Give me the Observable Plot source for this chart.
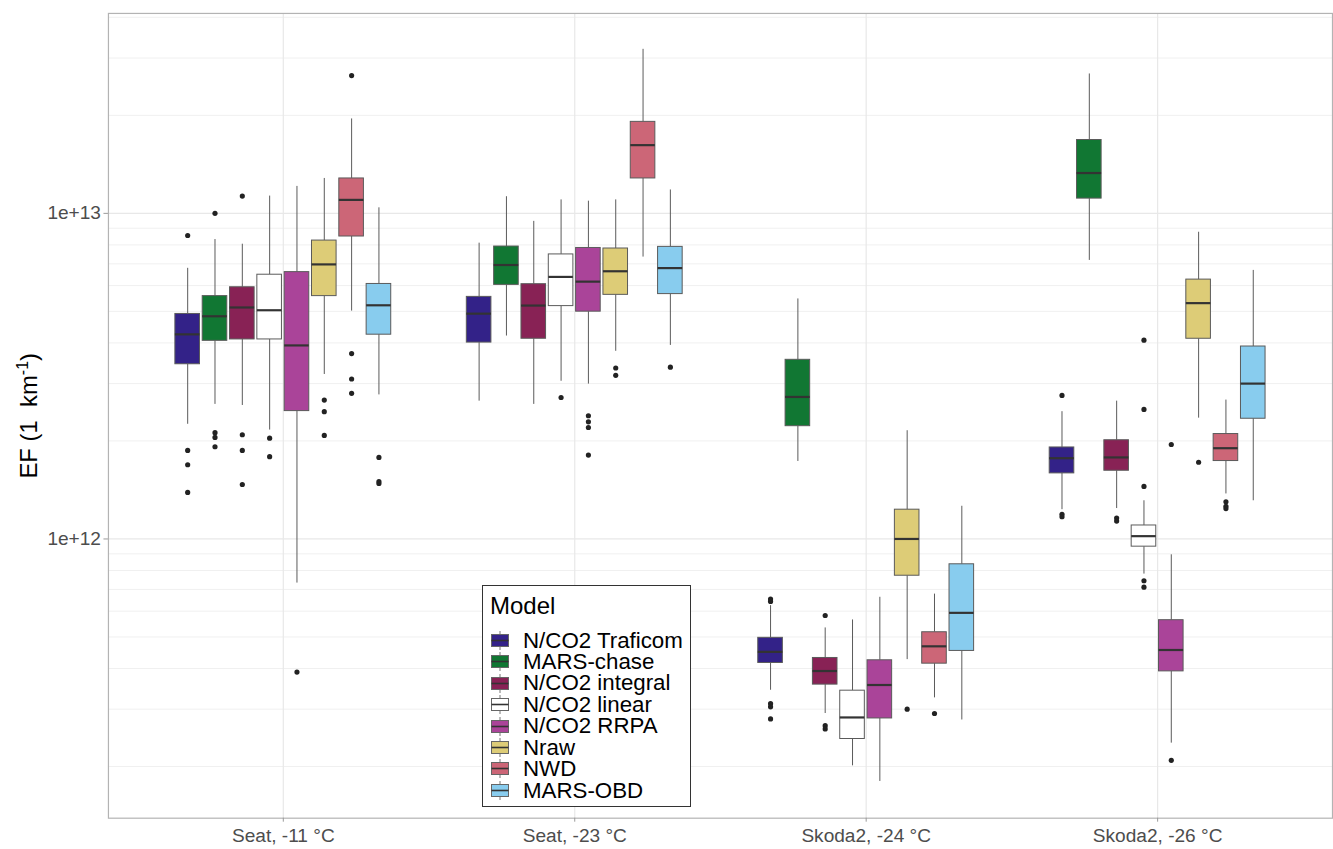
<!DOCTYPE html>
<html><head><meta charset="utf-8">
<script src="https://cdn.jsdelivr.net/npm/d3@7"></script>
<script src="https://cdn.jsdelivr.net/npm/@observablehq/plot@0.6"></script>
<style>
html,body{margin:0;padding:0;background:#fff;overflow:hidden;width:1333px;height:849px;}
#wrap{position:relative;width:1333px;height:849px;overflow:hidden;}
#wrap > svg{position:absolute;left:0;top:0;}
#legend{position:absolute;left:482px;top:585px;width:207px;height:220px;border:1px solid #333;background:#fff;
  font-family:"Liberation Sans",Arial,sans-serif;color:#000;box-sizing:content-box;}
#legend .title{position:absolute;left:7px;top:8px;font-size:24px;line-height:24px;height:24px;}
#legend .row{position:absolute;left:8px;height:21.43px;display:flex;align-items:center;white-space:nowrap;}
#legend .row svg{flex:none;display:block;}
#legend .row span{display:block;font-size:22.3px;line-height:21.43px;height:21.43px;margin-left:14px;}
</style></head>
<body><div id="wrap"></div>
<script>
// ---- data ----
const conditions = ["Seat, -11 °C", "Seat, -23 °C", "Skoda2, -24 °C", "Skoda2, -26 °C"];
const models = ["N/CO2 Traficom", "MARS-chase", "N/CO2 integral", "N/CO2 linear", "N/CO2 RRPA", "Nraw", "NWD", "MARS-OBD"];
const palette = ["#332288", "#117733", "#882255", "#FFFFFF", "#AA4499", "#DDCC77", "#CC6677", "#88CCEE"];

// per model: [lower whisker, Q1, median, Q3, upper whisker]
const seat11 = [
  [2.25e12, 3.44e12, 4.25e12, 4.91e12, 6.78e12],
  [2.59e12, 4.06e12, 4.83e12, 5.57e12, 8.31e12],
  [2.57e12, 4.10e12, 5.14e12, 5.93e12, 8.04e12],
  [2.16e12, 4.10e12, 5.04e12, 6.48e12, 1.13e13],
  [7.32e11, 2.47e12, 3.93e12, 6.60e12, 1.21e13],
  [3.20e12, 5.57e12, 6.97e12, 8.25e12, 1.28e13],
  [5.01e12, 8.49e12, 1.10e13, 1.28e13, 1.95e13],
  [2.77e12, 4.24e12, 5.22e12, 6.07e12, 1.04e13]
];
const seat23 = [
  [2.65e12, 4.01e12, 4.92e12, 5.54e12, 8.10e12],
  [4.20e12, 6.03e12, 6.94e12, 7.91e12, 1.125e13],
  [2.59e12, 4.12e12, 5.21e12, 6.06e12, 9.45e12],
  [3.05e12, 5.19e12, 6.38e12, 7.48e12, 1.10e13],
  [2.99e12, 4.99e12, 6.17e12, 7.83e12, 1.09e13],
  [3.77e12, 5.62e12, 6.64e12, 7.80e12, 1.10e13],
  [7.34e12, 1.28e13, 1.62e13, 1.91e13, 3.19e13],
  [3.93e12, 5.65e12, 6.79e12, 7.89e12, 1.18e13]
];
const skoda24 = [
  [3.43e11, 4.16e11, 4.50e11, 4.97e11, 6.24e11],
  [1.73e12, 2.22e12, 2.73e12, 3.55e12, 5.46e12],
  [2.91e11, 3.57e11, 3.93e11, 4.31e11, 5.33e11],
  [2.01e11, 2.43e11, 2.83e11, 3.42e11, 5.64e11],
  [1.80e11, 2.81e11, 3.56e11, 4.24e11, 6.62e11],
  [4.26e11, 7.71e11, 1.00e12, 1.23e12, 2.15e12],
  [3.25e11, 4.14e11, 4.68e11, 5.17e11, 6.77e11],
  [2.78e11, 4.53e11, 5.93e11, 8.36e11, 1.26e12]
];
const skoda26 = [
  [1.23e12, 1.59e12, 1.77e12, 1.91e12, 2.46e12],
  [7.17e12, 1.11e13, 1.33e13, 1.68e13, 2.68e13],
  [1.24e12, 1.62e12, 1.78e12, 2.01e12, 2.65e12],
  [7.80e11, 9.47e11, 1.02e12, 1.10e12, 1.31e12],
  [2.36e11, 3.92e11, 4.56e11, 5.63e11, 8.94e11],
  [2.35e12, 4.12e12, 5.30e12, 6.26e12, 8.75e12],
  [1.375e12, 1.735e12, 1.90e12, 2.10e12, 2.67e12],
  [1.31e12, 2.34e12, 3.00e12, 3.90e12, 6.68e12]
];

// outliers per model
const seat11Out = [
  [8.55e12, 1.87e12, 1.69e12, 1.39e12],
  [1.0e13, 2.12e12, 2.05e12, 1.92e12],
  [1.13e13, 2.09e12, 1.87e12, 1.47e12],
  [2.04e12, 1.79e12],
  [3.90e11],
  [2.67e12, 2.46e12, 2.08e12],
  [2.65e13, 3.71e12, 3.10e12, 2.80e12],
  [1.78e12, 1.50e12, 1.48e12]
];
const seat23Out = [
  [], [], [],
  [2.72e12],
  [2.39e12, 2.29e12, 2.20e12, 1.81e12],
  [3.35e12, 3.18e12],
  [],
  [3.37e12]
];
const skoda24Out = [
  [6.54e11, 6.43e11, 3.12e11, 3.05e11, 2.80e11],
  [],
  [5.82e11, 2.67e11, 2.61e11],
  [], [],
  [3.00e11],
  [2.91e11],
  []
];
const skoda26Out = [
  [2.76e12, 1.19e12, 1.17e12],
  [],
  [1.16e12, 1.135e12],
  [4.08e12, 2.50e12, 1.45e12, 7.44e11, 7.11e11],
  [1.95e12, 2.09e11],
  [1.72e12],
  [1.30e12, 1.26e12, 1.24e12],
  []
];

const yTicks = [1e12, 1e13];
const yTickLabels = ["1e+12", "1e+13"];
const yLabel = "EF (1\u00a0 km";
const yLabelSup = "-1";
const legendTitle = "Model";

// ---- build tables ----
const statsByCondition = [seat11, seat23, skoda24, skoda26];
const outByCondition = [seat11Out, seat23Out, skoda24Out, skoda26Out];
const dodgeWidth = 0.75, boxFrac = 0.9;
const slot = dodgeWidth / models.length;
const boxes = [], outliers = [];
statsByCondition.forEach((rows, ci) => rows.forEach((s, mi) => {
  const xc = ci + 1 + (mi - (models.length - 1) / 2) * slot;
  boxes.push({condition: conditions[ci], model: models[mi], x: xc,
    x1: xc - slot * boxFrac / 2, x2: xc + slot * boxFrac / 2,
    lo: s[0], q1: s[1], med: s[2], q3: s[3], hi: s[4]});
  outByCondition[ci][mi].forEach(v => outliers.push({condition: conditions[ci], model: models[mi], x: xc, y: v}));
}));
const condPos = conditions.map((c, i) => i + 1);
const yDomain = [1.388e11, 4.112e13];
const minorTicks = d3.scaleLog().domain(yDomain).ticks().filter(t => !yTicks.includes(t));

const font = '"Liberation Sans", Arial, sans-serif';
const chart = Plot.plot({
  width: 1340, height: 862,
  marginLeft: 108.5, marginRight: 1, marginTop: 13, marginBottom: 40,
  style: {fontFamily: font, fontSize: "19.2px", background: "white", color: "#4d4d4d"},
  x: {type: "linear", domain: [0.4, 4.6], axis: null},
  y: {type: "log", domain: yDomain, axis: null},
  color: {domain: models, range: palette},
  marks: [
    Plot.gridY(minorTicks, {stroke: "#f0f0f0", strokeOpacity: 1, strokeWidth: 1}),
    Plot.gridY(yTicks, {stroke: "#e8e8e8", strokeOpacity: 1, strokeWidth: 1.2}),
    Plot.gridX(condPos, {stroke: "#e8e8e8", strokeOpacity: 1, strokeWidth: 1.2}),
    Plot.ruleX(boxes, {x: "x", y1: "lo", y2: "q1", stroke: "#5a5a5a", strokeWidth: 1}),
    Plot.ruleX(boxes, {x: "x", y1: "q3", y2: "hi", stroke: "#5a5a5a", strokeWidth: 1}),
    Plot.rect(boxes, {x1: "x1", x2: "x2", y1: "q1", y2: "q3", fill: "model", stroke: "#5a5a5a", strokeWidth: 1}),
    Plot.ruleY(boxes, {y: "med", x1: "x1", x2: "x2", stroke: "#333", strokeWidth: 2.2}),
    Plot.dot(outliers, {x: "x", y: "y", r: 2.6, fill: "#222", stroke: null}),
    Plot.frame({stroke: "#b3b3b3", strokeWidth: 1.2}),
    Plot.axisY(yTicks, {anchor: "left", tickFormat: (d) => yTickLabels[yTicks.indexOf(d)], tickSize: 4.5, tickPadding: 3,
      fontSize: 19.2, fill: "#4d4d4d", stroke: "#999", label: yLabel, labelAnchor: "center", labelOffset: 89, labelArrow: "none"}),
    Plot.axisX(condPos, {anchor: "bottom", tickFormat: d => conditions[d - 1], tickSize: 4, tickPadding: 6,
      fontSize: 19.2, fill: "#4d4d4d", stroke: "#999", label: null})
  ]
});
document.getElementById("wrap").appendChild(chart);

// style y-axis title (black, larger, with superscript)
const yl = chart.querySelector('[aria-label="y-axis label"]');
if (yl) {
  yl.setAttribute("font-size", "24px");
  yl.style.fontSize = "24px";
  yl.setAttribute("fill", "#000");
  const t = yl.querySelector("text");
  if (t) {
    t.textContent = "";
    const ns = "http://www.w3.org/2000/svg";
    const a = document.createElementNS(ns, "tspan"); a.textContent = yLabel; t.appendChild(a);
    const b = document.createElementNS(ns, "tspan"); b.textContent = yLabelSup;
    b.setAttribute("font-size", "16px"); b.setAttribute("dy", "-0.55em"); t.appendChild(b);
    const c = document.createElementNS(ns, "tspan"); c.textContent = ")"; c.setAttribute("dy", "0.367em"); t.appendChild(c);
  }
}

// legend (HTML overlay, built from models/palette)
const legend = d3.select("#wrap").append("div").attr("id", "legend");
legend.append("div").attr("class", "title").text(legendTitle);
models.forEach((m, i) => {
  const row = legend.append("div").attr("class", "row").style("top", (43.6 + i * 21.43) + "px");
  const svg = row.append("svg").attr("width", 18).attr("height", 19);
  svg.append("line").attr("x1", 9).attr("x2", 9).attr("y1", 0).attr("y2", 19).attr("stroke", "#777").attr("stroke-width", 1);
  svg.append("rect").attr("x", 0.5).attr("y", 3.5).attr("width", 17).attr("height", 12)
    .attr("fill", palette[i]).attr("stroke", "#666").attr("stroke-width", 1);
  svg.append("line").attr("x1", 0.5).attr("x2", 17.5).attr("y1", 9.5).attr("y2", 9.5).attr("stroke", "#333").attr("stroke-width", 1.6);
  row.append("span").text(m);
});
</script>
</body></html>
